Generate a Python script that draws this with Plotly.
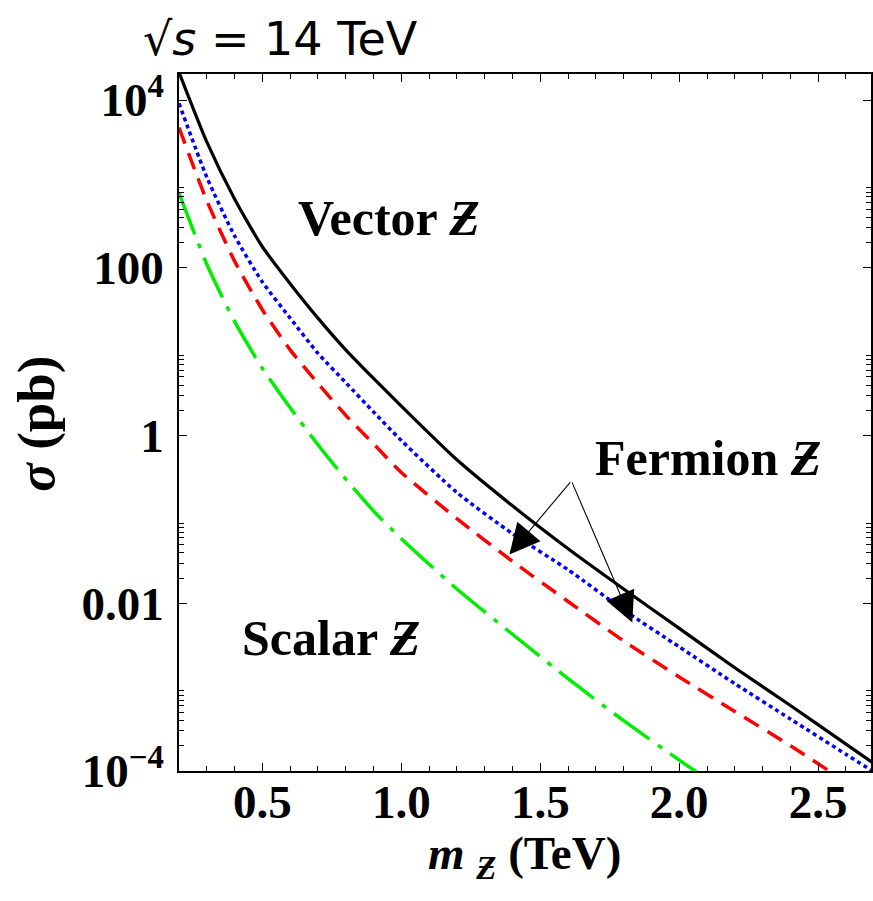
import plotly.graph_objects as go

# mass grid (TeV)
mass = [0.2, 0.3, 0.4, 0.5, 0.6, 0.7, 0.8, 0.9, 1.0, 1.2, 1.4, 1.6, 1.8, 2.0, 2.2, 2.4, 2.6, 2.7]

# cross sections (pb)
sigma_vector = [2.14e4, 3162, 661, 178, 64.6, 25.1, 10.5, 4.79, 2.24, 0.513, 0.145, 0.0447,
                0.0148, 5.01e-3, 1.70e-3, 6.03e-4, 2.09e-4, 1.23e-4]
sigma_fermion_blue = [9120, 1202, 240, 67.6, 25.1, 9.55, 4.27, 1.91, 0.871, 0.209, 0.0676, 0.0251,
                      8.32e-3, 3.02e-3, 1.10e-3, 4.17e-4, 1.58e-4, 9.77e-5]
mass_red = [0.2, 0.3, 0.4, 0.5, 0.6, 0.7, 0.8, 0.9, 1.0, 1.2, 1.4, 1.6, 1.8, 2.0, 2.2, 2.4, 2.6]
sigma_fermion_red = [4677, 631, 120, 31.6, 10.5, 4.17, 1.74, 0.794, 0.363, 0.102, 0.0316, 0.0105,
                     3.55e-3, 1.32e-3, 5.13e-4, 2.0e-4, 7.41e-5]
mass_green = [0.2, 0.3, 0.4, 0.5, 0.6, 0.7, 0.8, 0.9, 1.0, 1.2, 1.4, 1.6, 1.8, 2.0, 2.2]
sigma_scalar = [776, 110, 22.9, 6.31, 2.14, 0.776, 0.302, 0.126, 0.0589, 0.0148, 4.27e-3, 1.26e-3,
                3.98e-4, 1.35e-4, 4.68e-5]

x_ticks = [0.5, 1.0, 1.5, 2.0, 2.5]
x_ticktext = ["0.5", "1.0", "1.5", "2.0", "2.5"]
x_minor = [0.3, 0.4, 0.6, 0.7, 0.8, 0.9, 1.1, 1.2, 1.3, 1.4, 1.6, 1.7, 1.8, 1.9, 2.1, 2.2, 2.3, 2.4, 2.6]
y_ticks = [1e-4, 1e-2, 1, 100, 1e4]
y_ticktext = ["10<sup>\u22124</sup>", "0.01", "1", "100", "10<sup>4</sup>"]
y_minor = []
for dec in [1e4, 100, 1, 1e-2]:
    for k in [9, 8, 7, 6, 5, 4, 3, 2, 1]:
        y_minor.append(dec * k / 100)
y_minor += [2e4]

serif = "Liberation Serif"

fig = go.Figure()
fig.add_trace(go.Scatter(x=mass_green, y=sigma_scalar, mode="lines",
                         line=dict(color="#00ee00", width=3.5, dash="44px,10px,5px,10px",
                                   shape="spline", smoothing=0.6)))
fig.add_trace(go.Scatter(x=mass_red, y=sigma_fermion_red, mode="lines",
                         line=dict(color="#ff0000", width=3.5, dash="17px,10px",
                                   shape="spline", smoothing=0.6)))
fig.add_trace(go.Scatter(x=mass, y=sigma_fermion_blue, mode="lines",
                         line=dict(color="#0000ff", width=3.5, dash="4px,3.5px",
                                   shape="spline", smoothing=0.6)))
fig.add_trace(go.Scatter(x=mass, y=sigma_vector, mode="lines",
                         line=dict(color="black", width=3.2, shape="spline", smoothing=0.6)))

axis_common = dict(showline=True, linecolor="black", linewidth=1.5, mirror="ticks",
                   ticks="inside", ticklen=8, tickwidth=1.3, tickcolor="black",
                   showgrid=False, zeroline=False,
                   tickfont=dict(family=serif, size=47, color="black", weight="bold"))

fig.update_xaxes(range=[0.2, 2.69], tickmode="array", tickvals=x_ticks, ticktext=x_ticktext,
                 ticklabelstandoff=-11,
                 minor=dict(tickmode="array", tickvals=x_minor, ticks="inside", ticklen=5,
                            tickwidth=1, tickcolor="black"),
                 **axis_common)
fig.update_yaxes(type="log", range=[-4, 4.31], tickmode="array", tickvals=y_ticks,
                 ticktext=y_ticktext, ticklabelstandoff=4,
                 minor=dict(tickmode="array", tickvals=y_minor, ticks="inside", ticklen=5,
                            tickwidth=1, tickcolor="black"),
                 **axis_common)

ann = []
label_font = dict(family=serif, size=50, color="black", weight="bold")


def txt(x, y, text, font, angle=0):
    return dict(xref="paper", yref="paper", x=x, y=y, xanchor="center", yanchor="middle",
                text=text, showarrow=False, font=font, textangle=angle)


ann.append(txt(0.304, 0.793, "Vector <i>Ƶ</i>", label_font))
ann.append(txt(0.765, 0.449, "Fermion <i>Ƶ</i>", label_font))
ann.append(txt(0.219, 0.191, "Scalar <i>Ƶ</i>", label_font))
# arrows
for hx, hy in [(1.389, -1.42), (1.831, -2.23)]:
    ann.append(dict(xref="x", yref="y", x=hx, y=hy, axref="x", ayref="y", ax=1.612, ay=-0.541,
                    text="", showarrow=True, arrowhead=2, arrowsize=5.5, arrowwidth=1.1,
                    arrowcolor="black", standoff=0, startstandoff=0))
# titles
ann.append(txt(0.147, 1.05, "\u221a<i>s</i> = 14 TeV",
               dict(family="DejaVu Sans", size=46, color="black")))
ann.append(txt(0.4986, -0.123, "<i>m</i> <sub><i>Ƶ</i></sub> (TeV)",
               dict(family=serif, size=47, color="black", weight="bold")))
ann.append(txt(-0.206, 0.499, "<i>σ</i> (pb)",
               dict(family=serif, size=53, color="black", weight="bold"), angle=-90))

fig.update_layout(width=873, height=901, margin=dict(l=179, r=0, t=74, b=130),
                  paper_bgcolor="white", plot_bgcolor="white", showlegend=False,
                  annotations=ann)

# remove the default 8px page margin so the figure fills the window exactly
fig.write_html("out.html", config={"displayModeBar": False},
               post_script="document.body.style.margin='0px';")
